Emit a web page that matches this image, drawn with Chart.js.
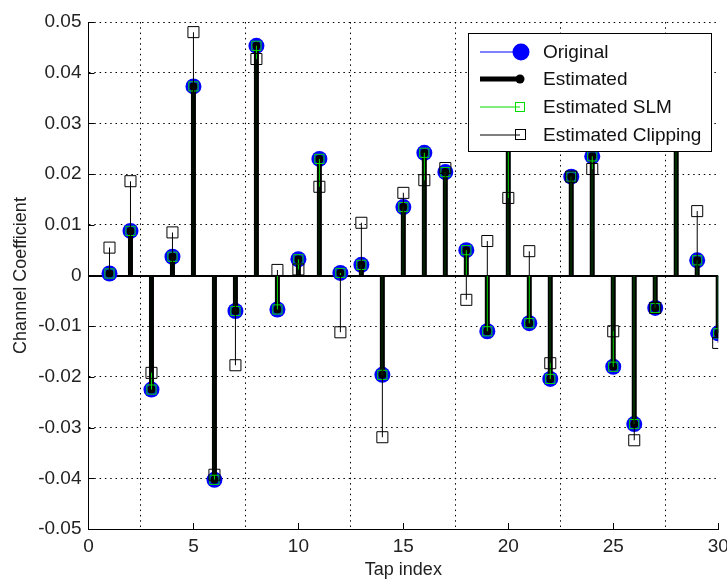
<!DOCTYPE html>
<html>
<head>
<meta charset="utf-8">
<script src="https://cdn.jsdelivr.net/npm/chart.js@4.4.0/dist/chart.umd.min.js"></script>
<style>
	body { margin: 0; background: #fff; }
	#wrap { width: 727px; height: 582px; }
</style>
</head>
<body>
<div id="wrap"><canvas id="myChart" width="727" height="582"></canvas></div>
<script>
var taps = [1, 2, 3, 4, 5, 6, 7, 8, 9, 10, 11, 12, 13, 14, 15, 16, 17, 18, 19, 20, 21, 22, 23, 24, 25, 26, 27, 28, 29, 30];

var original = [0.0004, 0.0088, -0.0225, 0.0037, 0.0373, -0.0403, -0.0070, 0.0453, -0.0067, 0.0032,
	0.0230, 0.0005, 0.0021, -0.0196, 0.0135, 0.0242, 0.0204, 0.0050, -0.0110, 0.0310,
	-0.0094, -0.0204, 0.0195, 0.0235, -0.0180, -0.0293, -0.0064, 0.0290, 0.0030, -0.0114];
var estimated = [0.0004, 0.0088, -0.0225, 0.0037, 0.0373, -0.0403, -0.0070, 0.0453, -0.0067, 0.0032,
	0.0230, 0.0005, 0.0021, -0.0196, 0.0135, 0.0242, 0.0204, 0.0050, -0.0110, 0.0310,
	-0.0094, -0.0204, 0.0195, 0.0235, -0.0180, -0.0293, -0.0064, 0.0290, 0.0030, -0.0114];
var estimated_slm = [0.0004, 0.0088, -0.0225, 0.0037, 0.0373, -0.0403, -0.0070, 0.0453, -0.0067, 0.0032,
	0.0230, 0.0005, 0.0021, -0.0196, 0.0135, 0.0242, 0.0204, 0.0050, -0.0110, 0.0310,
	-0.0094, -0.0204, 0.0195, 0.0235, -0.0180, -0.0293, -0.0064, 0.0290, 0.0030, -0.0114];
var estimated_clipping = [0.0055, 0.0186, -0.0192, 0.0085, 0.0480, -0.0393, -0.0177, 0.0427, 0.0011, 0.0012,
	0.0175, -0.0112, 0.0104, -0.0319, 0.0163, 0.0188, 0.0212, -0.0048, 0.0068, 0.0153,
	0.0048, -0.0173, 0.0195, 0.0210, -0.0110, -0.0325, -0.0064, 0.0280, 0.0127, -0.0133];

var x_ticks = [0, 5, 10, 15, 20, 25, 30];
var y_ticks = [-0.05, -0.04, -0.03, -0.02, -0.01, 0, 0.01, 0.02, 0.03, 0.04, 0.05];
var legend_labels = ["Original", "Estimated", "Estimated SLM", "Estimated Clipping"];

var font_family = "'Liberation Sans', Arial, sans-serif";
var green = "#00dd00";

function points(values) {
	return taps.map(function (t, i) {
		return { x: t, y: values[i] };
	});
}

// zero line and inward tick marks, like matlab stem plots
const stemBase = {
	id: "stemBase",
	beforeDatasetsDraw: function (chart) {
		const ctx = chart.ctx;
		const area = chart.chartArea;
		const xs = chart.scales.x;
		const ys = chart.scales.y;
		ctx.save();
		ctx.strokeStyle = "#000";
		ctx.lineWidth = 1;
		ctx.beginPath();
		xs.ticks.forEach(function (t) {
			const px = Math.floor(xs.getPixelForValue(t.value)) + 0.5;
			ctx.moveTo(px, area.bottom);
			ctx.lineTo(px, area.bottom - 6);
		});
		ys.ticks.forEach(function (t) {
			const py = Math.round(ys.getPixelForValue(t.value)) + 0.5;
			ctx.moveTo(area.left, py);
			ctx.lineTo(area.left + 6, py);
		});
		ctx.stroke();
		const y0 = Math.round(ys.getPixelForValue(0));
		ctx.lineWidth = 2;
		ctx.beginPath();
		ctx.moveTo(area.left, y0);
		ctx.lineTo(area.right, y0);
		ctx.stroke();
		ctx.restore();
	},
};

const legendBox = {
	id: "legendBox",
	afterDraw: function (chart) {
		const ctx = chart.ctx;
		const left = 468, top = 33, width = 243, height = 118;
		const rows = [52, 79, 107, 135];
		ctx.save();
		ctx.fillStyle = "#fff";
		ctx.fillRect(left, top, width, height);
		ctx.strokeStyle = "#000";
		ctx.lineWidth = 1;
		ctx.strokeRect(left + 0.5, top + 0.5, width, height);

		// Original
		ctx.strokeStyle = "#0000ff";
		ctx.beginPath();
		ctx.moveTo(480, rows[0]);
		ctx.lineTo(521, rows[0]);
		ctx.stroke();
		ctx.fillStyle = "#0000ff";
		ctx.beginPath();
		ctx.arc(521, rows[0], 8.5, 0, Math.PI * 2);
		ctx.fill();

		// Estimated
		ctx.strokeStyle = "#000";
		ctx.lineWidth = 5;
		ctx.beginPath();
		ctx.moveTo(480, rows[1]);
		ctx.lineTo(519, rows[1]);
		ctx.stroke();
		ctx.fillStyle = "#000";
		ctx.beginPath();
		ctx.arc(520, rows[1], 4.5, 0, Math.PI * 2);
		ctx.fill();

		// Estimated SLM
		ctx.lineWidth = 1;
		ctx.strokeStyle = green;
		ctx.beginPath();
		ctx.moveTo(480, rows[2]);
		ctx.lineTo(520, rows[2]);
		ctx.stroke();
		ctx.strokeRect(515.5, rows[2] - 4.5, 9, 9);

		// Estimated Clipping
		ctx.strokeStyle = "#000";
		ctx.beginPath();
		ctx.moveTo(480, rows[3]);
		ctx.lineTo(520, rows[3]);
		ctx.stroke();
		ctx.strokeRect(515.5, rows[3] - 5.5, 10, 10);

		ctx.fillStyle = "#111";
		ctx.font = "19px " + font_family;
		ctx.textBaseline = "middle";
		ctx.textAlign = "left";
		legend_labels.forEach(function (label, i) {
			ctx.fillText(label, 543, rows[i] + 1);
		});
		ctx.restore();
	},
};

const data = {
	datasets: [
		{
			type: "scatter",
			label: "Estimated Clipping",
			data: points(estimated_clipping),
			pointStyle: "rect",
			pointRadius: 7.8,
			backgroundColor: "rgba(0,0,0,0)",
			borderColor: "#000",
			borderWidth: 1,
			order: 0,
		},
		{
			type: "bar",
			label: "Estimated Clipping stem",
			data: points(estimated_clipping),
			backgroundColor: "#000",
			barThickness: 1,
			inflateAmount: 0,
			grouped: false,
			order: 1,
		},
		{
			type: "scatter",
			label: "Estimated SLM",
			data: points(estimated_slm),
			pointStyle: "rect",
			pointRadius: 6.5,
			backgroundColor: "rgba(0,0,0,0)",
			borderColor: green,
			borderWidth: 1,
			order: 2,
		},
		{
			type: "bar",
			label: "Estimated SLM stem",
			data: points(estimated_slm),
			backgroundColor: green,
			barThickness: 1,
			inflateAmount: 0,
			grouped: false,
			order: 3,
		},
		{
			type: "scatter",
			label: "Estimated",
			data: points(estimated),
			pointStyle: "circle",
			pointRadius: 4,
			backgroundColor: "#000",
			borderColor: "#000",
			borderWidth: 0,
			order: 4,
		},
		{
			type: "bar",
			label: "Estimated stem",
			data: points(estimated),
			backgroundColor: "#000",
			barThickness: 5,
			inflateAmount: 0,
			grouped: false,
			order: 5,
		},
		{
			type: "scatter",
			label: "Original",
			data: points(original),
			pointStyle: "circle",
			pointRadius: 8,
			backgroundColor: "#0000ff",
			borderColor: "#0000ff",
			borderWidth: 0,
			order: 6,
		},
		{
			type: "bar",
			label: "Original stem",
			data: points(original),
			backgroundColor: "#0000ff",
			barThickness: 1,
			inflateAmount: 0,
			grouped: false,
			order: 7,
		},
	],
};

const config = {
	type: "bar",
	data: data,
	plugins: [stemBase, legendBox],
	options: {
		responsive: false,
		animation: false,
		events: [],
		layout: {
			padding: { top: 22, right: 8.5, left: 0, bottom: 0 },
		},
		plugins: {
			legend: { display: false },
			tooltip: { enabled: false },
		},
		scales: {
			x: {
				type: "linear",
				min: 0,
				max: 30,
				offset: false,
				afterBuildTicks: function (scale) {
					scale.ticks = x_ticks.map(function (v) { return { value: v }; });
				},
				afterFit: function (scale) {
					scale.height = 53;
					scale.paddingLeft = 0;
					scale.paddingRight = 0;
				},
				grid: { color: "#000", lineWidth: 1, drawTicks: false },
				border: { display: true, color: "#000", width: 1, dash: [1.5, 3.8] },
				ticks: {
					color: "#222",
					padding: 6,
					maxRotation: 0,
					font: { family: font_family, size: 19 },
				},
				title: {
					display: true,
					text: "Tap index",
					color: "#222",
					padding: { top: 0, bottom: 1 },
					font: { family: font_family, size: 18 },
				},
			},
			y: {
				type: "linear",
				min: -0.05,
				max: 0.05,
				afterBuildTicks: function (scale) {
					scale.ticks = y_ticks.map(function (v) { return { value: v }; });
				},
				afterFit: function (scale) {
					scale.width = 88.5;
					scale.paddingTop = 0;
					scale.paddingBottom = 0;
				},
				grid: { color: "#000", lineWidth: 1, drawTicks: false },
				border: { display: true, color: "#000", width: 1, dash: [1.5, 3.8] },
				ticks: {
					color: "#222",
					padding: 7,
					font: { family: font_family, size: 19 },
					callback: function (value) {
						return value === 0 ? "0" : value.toFixed(2);
					},
				},
				title: {
					display: true,
					text: "Channel Coefficient",
					color: "#222",
					padding: { top: 10, bottom: 0 },
					font: { family: font_family, size: 18 },
				},
			},
		},
	},
};

const myChart = new Chart(document.getElementById("myChart"), config);
</script>
</body>
</html>
